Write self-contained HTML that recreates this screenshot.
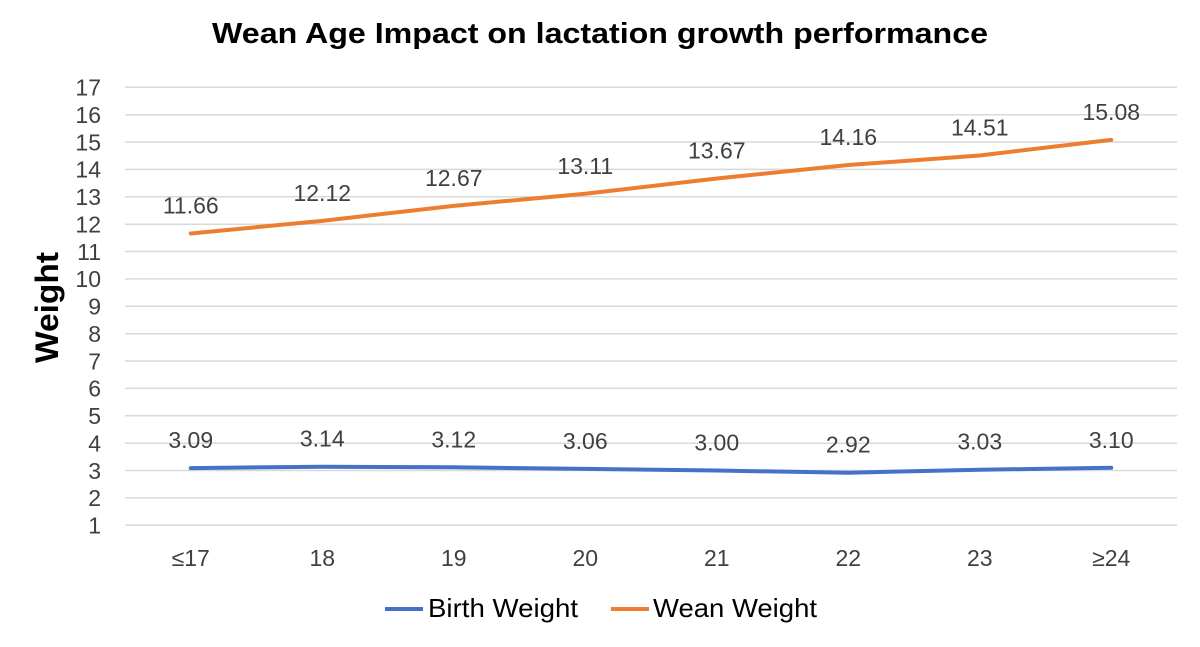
<!DOCTYPE html>
<html>
<head>
<meta charset="utf-8">
<style>
html,body{margin:0;padding:0;background:#fff;}
svg{display:block;}
text{font-family:"Liberation Sans",Arial,sans-serif;}
</style>
</head>
<body>
<svg width="1200" height="647" viewBox="0 0 1200 647" xmlns="http://www.w3.org/2000/svg">
<rect width="1200" height="647" fill="#fff"/>
<text x="600" y="43" text-anchor="middle" font-size="29" font-weight="bold" fill="#000" textLength="776" lengthAdjust="spacingAndGlyphs">Wean Age Impact on lactation growth performance</text>

<g stroke="#d9d9d9" stroke-width="1.5">
<line x1="125" x2="1177" y1="525.3" y2="525.3"/>
<line x1="125" x2="1177" y1="497.9" y2="497.9"/>
<line x1="125" x2="1177" y1="470.55" y2="470.55"/>
<line x1="125" x2="1177" y1="443.2" y2="443.2"/>
<line x1="125" x2="1177" y1="415.8" y2="415.8"/>
<line x1="125" x2="1177" y1="388.4" y2="388.4"/>
<line x1="125" x2="1177" y1="361.05" y2="361.05"/>
<line x1="125" x2="1177" y1="333.7" y2="333.7"/>
<line x1="125" x2="1177" y1="306.3" y2="306.3"/>
<line x1="125" x2="1177" y1="278.9" y2="278.9"/>
<line x1="125" x2="1177" y1="251.55" y2="251.55"/>
<line x1="125" x2="1177" y1="224.2" y2="224.2"/>
<line x1="125" x2="1177" y1="196.8" y2="196.8"/>
<line x1="125" x2="1177" y1="169.4" y2="169.4"/>
<line x1="125" x2="1177" y1="142.05" y2="142.05"/>
<line x1="125" x2="1177" y1="114.7" y2="114.7"/>
<line x1="125" x2="1177" y1="87.3" y2="87.3"/>
</g>

<g font-size="23" fill="#404040" text-anchor="end">
<text x="101" y="533.5">1</text>
<text x="101" y="506.1">2</text>
<text x="101" y="478.75">3</text>
<text x="101" y="451.4">4</text>
<text x="101" y="424">5</text>
<text x="101" y="396.6">6</text>
<text x="101" y="369.25">7</text>
<text x="101" y="341.9">8</text>
<text x="101" y="314.5">9</text>
<text x="101" y="287.1">10</text>
<text x="101" y="259.75">11</text>
<text x="101" y="232.4">12</text>
<text x="101" y="205">13</text>
<text x="101" y="177.6">14</text>
<text x="101" y="150.25">15</text>
<text x="101" y="122.9">16</text>
<text x="101" y="95.5">17</text>
</g>

<text transform="translate(58,307.5) rotate(-90)" text-anchor="middle" font-size="32" font-weight="bold" fill="#000" textLength="111" lengthAdjust="spacingAndGlyphs">Weight</text>

<g font-size="23" fill="#404040" text-anchor="middle">
<text x="190.75" y="566">≤17</text>
<text x="322.25" y="566">18</text>
<text x="453.75" y="566">19</text>
<text x="585.25" y="566">20</text>
<text x="716.75" y="566">21</text>
<text x="848.25" y="566">22</text>
<text x="979.75" y="566">23</text>
<text x="1111.25" y="566">≥24</text>
</g>

<polyline fill="none" stroke="#4472C4" stroke-width="4" stroke-linejoin="round" stroke-linecap="round"
points="190.75,468.09 322.25,466.72 453.75,467.26 585.25,468.91 716.75,470.55 848.25,472.74 979.75,469.73 1111.25,467.81"/>
<polyline fill="none" stroke="#ED7D31" stroke-width="4" stroke-linejoin="round" stroke-linecap="round"
points="190.75,233.48 322.25,220.89 453.75,205.83 585.25,193.79 716.75,178.46 848.25,165.04 979.75,155.46 1111.25,139.86"/>

<g font-size="23" fill="#404040" text-anchor="middle">
<text x="190.75" y="448">3.09</text>
<text x="322.25" y="446.7">3.14</text>
<text x="453.75" y="447.3">3.12</text>
<text x="585.25" y="448.9">3.06</text>
<text x="716.75" y="450.5">3.00</text>
<text x="848.25" y="452.7">2.92</text>
<text x="979.75" y="449.7">3.03</text>
<text x="1111.25" y="447.8">3.10</text>

<text x="190.75" y="213.5">11.66</text>
<text x="322.25" y="200.9">12.12</text>
<text x="453.75" y="185.8">12.67</text>
<text x="585.25" y="173.8">13.11</text>
<text x="716.75" y="158.5">13.67</text>
<text x="848.25" y="145">14.16</text>
<text x="979.75" y="135.5">14.51</text>
<text x="1111.25" y="119.9">15.08</text>
</g>

<line x1="385" x2="423" y1="609" y2="609" stroke="#4472C4" stroke-width="4"/>
<text x="428" y="617" font-size="26" fill="#000" textLength="150" lengthAdjust="spacingAndGlyphs">Birth Weight</text>
<line x1="611" x2="649" y1="609" y2="609" stroke="#ED7D31" stroke-width="4"/>
<text x="653" y="617" font-size="26" fill="#000" textLength="164" lengthAdjust="spacingAndGlyphs">Wean Weight</text>
</svg>
</body>
</html>
